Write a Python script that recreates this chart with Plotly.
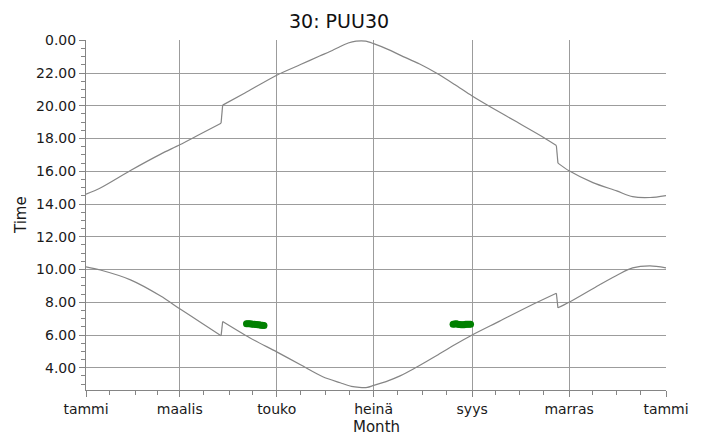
import plotly.graph_objects as go

# Day-of-year positions of readings (0 = 1 Jan)
sunset_days = [0, 9, 28, 47, 59, 72, 85, 86, 100, 120, 135, 147, 155, 160, 165, 170, 176, 181, 190, 198, 210, 221, 232, 243, 256, 271, 288, 296, 297, 304, 319, 334, 344, 355, 365]
sunset_vals = [14.6, 14.98, 16.05, 17.05, 17.62, 18.28, 18.94, 20.04, 20.78, 21.87, 22.52, 23.04, 23.38, 23.62, 23.84, 23.95, 23.95, 23.8, 23.45, 23.08, 22.55, 21.97, 21.3, 20.6, 19.85, 19.02, 18.07, 17.58, 16.5, 16.03, 15.31, 14.8, 14.45, 14.4, 14.52]

sunrise_days = [0, 9, 28, 47, 59, 72, 85, 86, 103, 120, 135, 149, 160, 167, 172, 177, 181, 190, 198, 206, 214, 221, 232, 243, 260, 281, 296, 297, 304, 323, 335, 344, 355, 365]
sunrise_vals = [10.16, 9.97, 9.37, 8.38, 7.6, 6.78, 5.95, 6.82, 5.83, 4.97, 4.18, 3.45, 3.08, 2.86, 2.8, 2.8, 2.92, 3.2, 3.52, 3.92, 4.36, 4.76, 5.4, 6.0, 6.83, 7.86, 8.55, 7.66, 8.0, 9.06, 9.7, 10.1, 10.22, 10.1]

dst_start_day = 86
dst_end_day = 297

obs1_days = [101, 102, 103, 104, 105, 106, 107, 108, 109, 110, 111, 112]
obs1_vals = [6.68, 6.69, 6.68, 6.67, 6.66, 6.65, 6.64, 6.63, 6.62, 6.6, 6.59, 6.58]
obs2_days = [231, 232, 233, 234, 235, 236, 237, 238, 239, 240, 241, 242]
obs2_vals = [6.66, 6.67, 6.68, 6.66, 6.64, 6.63, 6.62, 6.63, 6.65, 6.66, 6.66, 6.65]

month_ticks = [0, 59, 120, 181, 243, 304, 365]
month_labels = ["tammi", "maalis", "touko", "heinä", "syys", "marras", "tammi"]
grid_months = [59, 120, 181, 243, 304]
minor_days = [15, 31, 45, 74, 90, 105, 135, 151, 166, 196, 212, 227, 258, 273, 288, 319, 334, 349]
hour_ticks = [4, 6, 8, 10, 12, 14, 16, 18, 20, 22, 24]
hour_labels = ["4.00", "6.00", "8.00", "10.00", "12.00", "14.00", "16.00", "18.00", "20.00", "22.00", "0.00"]

LINE = "#858585"
GRID = "#9c9c9c"
FONT = "DejaVu Sans"
TXT = "#1a1a1a"


def segments(days, vals):
    """Split a series at the daylight-saving jumps, keeping the jump as a straight step."""
    segs = []
    cur_d, cur_v = [], []
    for d, v in zip(days, vals):
        if d in (dst_start_day, dst_end_day) and cur_d:
            segs.append((cur_d, cur_v))
            segs.append(([cur_d[-1], d], [cur_v[-1], v]))
            cur_d, cur_v = [], []
        cur_d.append(d)
        cur_v.append(v)
    segs.append((cur_d, cur_v))
    return segs


fig = go.Figure()
for days, vals in (segments(sunset_days, sunset_vals) + segments(sunrise_days, sunrise_vals)):
    fig.add_trace(go.Scatter(x=days, y=vals, mode="lines",
                             line=dict(color=LINE, width=1.2, shape="spline", smoothing=0.8),
                             hoverinfo="skip"))
fig.add_trace(go.Scatter(x=obs1_days, y=obs1_vals, mode="markers",
                         marker=dict(color="#008000", size=7, line=dict(width=0))))
fig.add_trace(go.Scatter(x=obs2_days, y=obs2_vals, mode="markers",
                         marker=dict(color="#008000", size=7, line=dict(width=0))))

fig.update_layout(
    width=706, height=435,
    margin=dict(l=86, r=40, t=40, b=45),
    paper_bgcolor="white", plot_bgcolor="white",
    showlegend=False,
    font=dict(family=FONT, size=14, color=TXT),
    xaxis=dict(range=[0, 365], tickmode="array", tickvals=month_ticks, ticktext=month_labels,
               showgrid=False, zeroline=False, showline=True, linecolor=LINE, linewidth=1,
               ticks="outside", ticklen=6, tickcolor=LINE, tickwidth=1,
               tickfont=dict(family=FONT, size=14, color=TXT),
               minor=dict(tickmode="array", tickvals=minor_days, ticks="outside",
                          ticklen=4, tickcolor=LINE, showgrid=False)),
    xaxis2=dict(overlaying="x", matches="x", range=[0, 365], tickmode="array",
                tickvals=grid_months, showgrid=True, gridcolor=GRID, gridwidth=1,
                showticklabels=False, ticks="", zeroline=False, showline=False),
    yaxis=dict(range=[2.64, 24.02], tickmode="array", tickvals=hour_ticks, ticktext=hour_labels,
               showgrid=True, gridcolor=GRID, gridwidth=1, zeroline=False,
               showline=True, linecolor=LINE, linewidth=1,
               ticks="outside", ticklen=6, tickcolor=LINE, tickwidth=1,
               tickfont=dict(family=FONT, size=14, color=TXT),
               minor=dict(dtick=0.5, tick0=0, ticks="outside", ticklen=4,
                          tickcolor=LINE, showgrid=False)),
    annotations=[
        dict(text="30: PUU30", xref="paper", yref="paper", x=0.436, y=1 + 19/350,
             xanchor="center", yanchor="middle", showarrow=False,
             font=dict(family=FONT, size=19, color="#111111")),
        dict(text="Time", xref="paper", yref="paper", x=-65/580, y=0.5, textangle=-90,
             xanchor="center", yanchor="middle", showarrow=False,
             font=dict(family=FONT, size=15, color=TXT)),
        dict(text="Month", xref="paper", yref="paper", x=0.5, y=-37/350,
             xanchor="center", yanchor="middle", showarrow=False,
             font=dict(family=FONT, size=15, color=TXT)),
    ],
)
# ensure the x2 axis exists so its grid is drawn
fig.add_trace(go.Scatter(x=[], y=[], xaxis="x2", hoverinfo="skip"))

fig.write_html("out.html", config={"displayModeBar": False},
               post_script="document.body.style.margin='0';document.body.style.overflow='hidden';")
